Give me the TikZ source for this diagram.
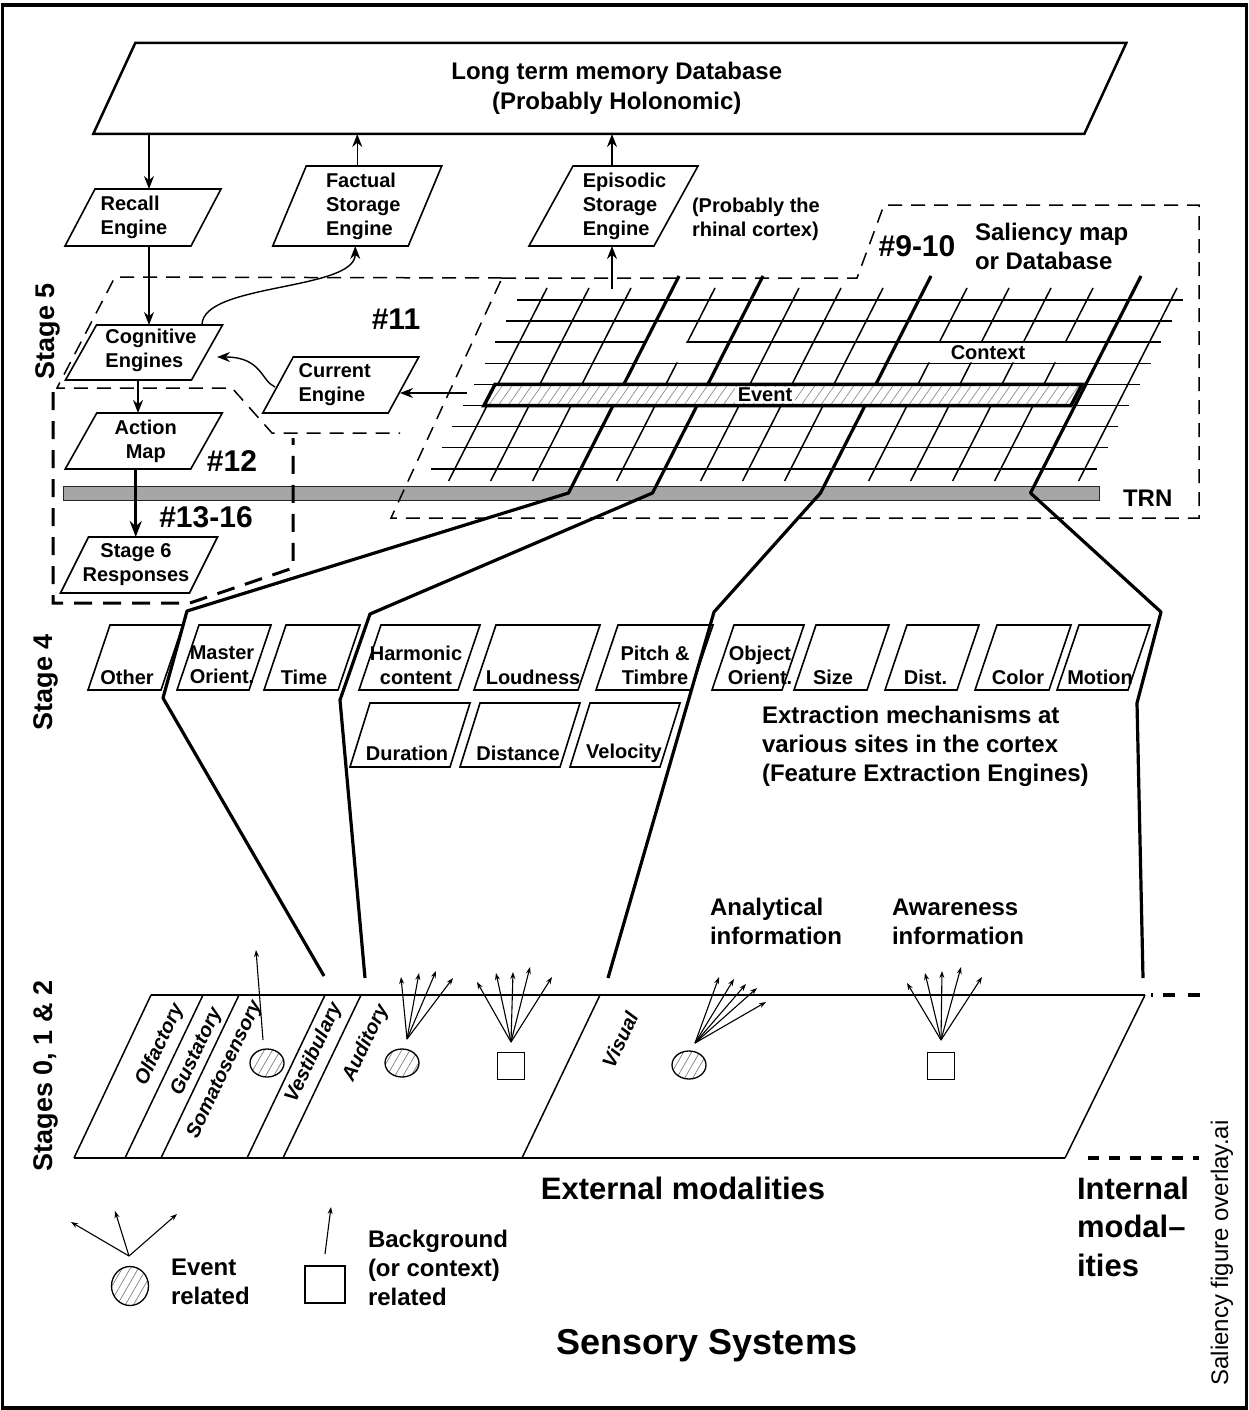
\documentclass[tikz,border=0pt]{standalone}
\usepackage{fontspec}
\setmainfont{Liberation Sans}
\usetikzlibrary{arrows.meta,calc,patterns.meta,shapes.geometric}

% slanted box: [text opts]{name}{cx}{cy}{edge width}{height}{slant}{text}
\newcommand\pgm[8][]{%
  \node[pgbody,minimum width=#5,minimum height=#6] (#2) at (#3,#4) {};
  \draw[pgline] ($(#2.north west)+(#7/2,0)$) -- ($(#2.north east)+(#7/2,0)$)
     -- ($(#2.south east)-(#7/2,0)$) -- ($(#2.south west)-(#7/2,0)$) -- cycle;
  \node[pgtext,#1] (#2-t) at (#2) {#8};}

% white-out of grid cells between columns #1 and #2, from y=#3 to y=#4
\newcommand\cellpatch[4]{%
  \fill[white] ({547+42*#1-0.51*(#3-288)+1.3},#3) -- ({547+42*#2-0.51*(#3-288)-1.3},#3)
    -- ({547+42*#2-0.51*(#4-288)-1.3},#4) -- ({547+42*#1-0.51*(#4-288)+1.3},#4) -- cycle;}

% fan of small arrows from a base point
\newcommand\fan[2]{\foreach \fdx/\fdy in {#2} {\draw[fanarr] (#1) -- ++(\fdx,\fdy);}}

\tikzset{
  every node/.style={inner sep=0pt, outer sep=0pt},
  pgbody/.style={shape=rectangle},
  pgline/.style={draw, line width=1.6pt, line join=miter},
  pgtext/.style={font=\bfseries\fontsize{20}{24}\selectfont, align=left},
  f20/.style={font=\bfseries\fontsize{20}{24}\selectfont, align=left},
  f24/.style={font=\bfseries\fontsize{24}{29}\selectfont, align=left},
  f27/.style={font=\bfseries\fontsize{27}{32}\selectfont},
  f30/.style={font=\bfseries\fontsize{30}{36}\selectfont},
  f31/.style={font=\bfseries\fontsize{31}{38.5}\selectfont, align=left},
  sense/.style={font=\bfseries\itshape\fontsize{20}{24}\selectfont, rotate=64.6},
  arr/.style={line width=1.4pt, -{Stealth[length=13pt,width=10pt]}},
  arrthick/.style={line width=3pt, -{Stealth[length=16pt,width=12pt]}},
  fanarr/.style={line width=1.1pt, -{Stealth[length=7pt,width=5pt]}},
  gridline/.style={line width=1.5pt},
  thickline/.style={line width=3.2pt, line join=round},
  dashreg/.style={line width=1.5pt, dash pattern=on 14pt off 9pt},
  dashheavy/.style={line width=3pt, dash pattern=on 18pt off 11pt},
  hatchfill/.style={preaction={fill=white}, pattern={Lines[angle=60,distance=7pt,line width=0.7pt]}, pattern color=black!50},
}

\begin{document}
\begin{tikzpicture}[x=1pt,y=-1pt]
\useasboundingbox (0,0) rectangle (1249,1410);
\draw[line width=3.5pt] (2.5,5) rectangle (1246.5,1408);

% ---------- TRN bar ----------
\node[draw=black!85, fill=black!35, line width=1pt, minimum width=1036, minimum height=14] (trn) at (581,493) {};
\node[f24, anchor=west] (trn-l) at (1123,498) {TRN};

% ---------- saliency grid ----------
\foreach \i in {0,...,8}{
  \draw[gridline] ({517-0.51*21.1*\i},{300+21.1*\i}) -- ++(666,0);
}
\foreach \k in {0,1,2,4,6,7,8,10,11,12,13,15}{
  \draw[gridline] ({547+42*\k},288) -- ++(-98.4,193);
}
\cellpatch{9}{14}{343.2}{362.3}
\cellpatch{3}{5}{343.2}{362.3}
\cellpatch{3}{4}{322.1}{362.3}
\node[f20] (context) at (988,353) {Context};

% ---------- projection lines ----------
\coordinate (t1) at (679,276);  \coordinate (b1) at (568.5,493); \coordinate (m1) at (187,611); \coordinate (n1) at (163,698); \coordinate (e1) at (324,976);
\coordinate (t2) at (763,276);  \coordinate (b2) at (652.5,493); \coordinate (m2) at (370,614); \coordinate (n2) at (340,700); \coordinate (e2) at (365,978);
\coordinate (t3) at (931,276);  \coordinate (b3) at (820.5,493); \coordinate (m3) at (714,612); \coordinate (e3) at (608,978);
\coordinate (t4) at (1141,276); \coordinate (b4) at (1030.5,493); \coordinate (m4) at (1161,612); \coordinate (n4) at (1137,703); \coordinate (e4) at (1143,978);
\draw[thickline] (t1) -- (b1) -- (m1) -- (n1) -- (e1);
\draw[thickline] (t2) -- (b2) -- (m2) -- (n2) -- (e2);
\draw[thickline] (t3) -- (b3) -- (m3) -- (e3);
\draw[thickline] (t4) -- (b4) -- (m4) -- (n4) -- (e4);

% ---------- event band ----------
\draw[preaction={fill=white}, pattern={Lines[angle=55,distance=8pt,line width=0.7pt]}, pattern color=black!45, line width=3.5pt, line join=miter]
  (495,384.4) -- (1082,384.4) -- (1071,405.5) -- (484,405.5) -- cycle;
\node[f20, fill=white, inner xsep=3pt, inner ysep=1pt] (event) at (765,395) {Event};

% ---------- dashed regions ----------
\draw[dashreg] (502,278) -- (857,278) -- (884,205) -- (1199,205) -- (1199,518) -- (391,518) -- cycle;
\draw[dashreg] (502,278) -- (115,277) -- (57,388) -- (232,388) -- (272,433) -- (400,433);
\draw[dashheavy] (53,392) -- (53,603) -- (190,603) -- (293,568) -- (293,438);

\node[f30] (n11) at (396,319) {\#11};
\node[f30] (n12) at (232,461) {\#12};
\node[f30] (n13) at (206,517) {\#13-16};
\node[f30] (n9) at (917,246) {\#9-10};
\node[f24, anchor=west] (salmap) at (975,246.5) {Saliency map\\or Database};

% ---------- stage 5 engines ----------
\begin{scope}[pgline/.style={draw, line width=2.5pt, line join=miter}]
\pgm[align=center,xshift=7pt,font=\bfseries\fontsize{24}{30}\selectfont]{ltm}{609.75}{88.5}{991}{91}{42}{Long term memory Database\\(Probably Holonomic)}
\end{scope}
\pgm[xshift=-9pt]{recall}{143}{217.5}{126}{57}{30}{Recall\\Engine}
\pgm[xshift=6pt]{factual}{357.25}{206}{135.5}{80}{33.5}{Factual\\Storage\\Engine}
\pgm[xshift=11pt]{episodic}{613.5}{206}{125}{80}{44}{Episodic\\Storage\\Engine}
\pgm[xshift=7pt,yshift=2pt]{cog}{144}{352.5}{126}{55}{31}{Cognitive\\Engines}
\pgm[xshift=-6pt]{cur}{340.75}{385}{125.5}{56}{30.5}{Current\\Engine}
\pgm[align=center,xshift=2pt]{act}{143.75}{441}{125.5}{56}{31.5}{Action\\Map}
\pgm[align=center,xshift=-3pt]{resp}{139}{565}{129}{56}{28}{Stage 6\\Responses}
\node[f20, anchor=west] (rhinal) at (692,219) {(Probably the\\rhinal cortex)};

\coordinate (rc) at ($(recall.north)+(6,0)$);
\draw[arr] (rc |- ltm.south) -- (rc);
\draw[arr] (factual.north) -- (factual.north |- ltm.south);
\coordinate (ec) at ($(episodic.north)+(-1.5,0)$);
\draw[arr] (ec) -- (ec |- ltm.south);
\coordinate (epsrc) at (612,289);
\draw[arr] (epsrc) -- (epsrc |- episodic.south);
\coordinate (rcog) at ($(recall.south)+(6,0)$);
\draw[arr] (rcog) -- (rcog |- cog.north);
\draw[arr] ($(cog.north)+(58,0)$) .. controls +(0,-42) and +(0,45) .. ($(factual.south)+(-2,0)$);
\draw[arr] ($(cur.west)+(-3,2)$) .. controls +(-14,-6) and +(45,0) .. ($(cog.east)+(10,4.5)$);
\coordinate (cursrc) at (467,393);
\draw[arr] (cursrc) -- ($(cur.east)+(-3.5,8)$);
\coordinate (ca) at ($(cog.south)+(-6,0)$);
\draw[arr, line width=2.4pt] (ca) -- (ca |- act.north);
\coordinate (ar) at ($(act.south)+(-8,0)$);
\draw[arrthick] (ar) -- (ar |- resp.north);

% ---------- stage 4 feature extraction ----------
\pgm[align=center,xshift=-8.5pt,yshift=-19.5pt]{other}{135.5}{657.5}{73}{65}{22}{Other}
\pgm[align=right,xshift=-2pt,yshift=-7.5pt]{master}{224}{657.5}{72}{65}{22}{Master\\Orient.}
\pgm[align=center,xshift=-8pt,yshift=-19.5pt]{time}{312}{657.5}{74}{65}{22}{Time}
\pgm[align=center,xshift=-3.5pt,yshift=-7.5pt]{harm}{419.5}{657.5}{99}{65}{22}{Harmonic\\content}
\pgm[align=center,xshift=-4pt,yshift=-19.5pt]{loud}{537}{657.5}{104}{65}{22}{Loudness}
\pgm[align=center,xshift=0.5pt,yshift=-7.5pt]{pitch}{654.5}{657.5}{95}{65}{22}{Pitch \&\\Timbre}
\pgm[align=center,xshift=2pt,yshift=-7.5pt]{objor}{758}{657.5}{70}{65}{22}{Object\\Orient.}
\pgm[align=center,xshift=-8.5pt,yshift=-19.5pt]{size}{841.5}{657.5}{73}{65}{22}{Size}
\pgm[align=center,xshift=-6.5pt,yshift=-19.5pt]{dist}{932}{657.5}{72}{65}{22}{Dist.}
\pgm[align=center,xshift=-5pt,yshift=-19.5pt]{color}{1023}{657.5}{74}{65}{22}{Color}
\pgm[align=center,xshift=-3.5pt,yshift=-19.5pt]{motion}{1103.5}{657.5}{71}{65}{22}{Motion}
\pgm[align=center,xshift=-3pt,yshift=-18pt]{durat}{410}{735}{100}{64}{20}{Duration}
\pgm[align=center,xshift=-2pt,yshift=-18pt]{distance}{520}{735}{100}{64}{20}{Distance}
\pgm[align=center,xshift=-1pt,yshift=-18pt]{veloc}{625}{735}{90}{64}{20}{Velocity}
\node[f24, anchor=west] (extract) at (762,746) {Extraction mechanisms at\\various sites in the cortex\\(Feature Extraction Engines)};

% ---------- stages 0, 1 & 2 ----------
\draw[line width=2.2pt] (151,995) -- (1145,995);
\draw[line width=2.2pt] (74,1158) -- (1065,1158);
\draw[line width=1.5pt] (151,995) -- (74,1158);
\draw[line width=1.5pt] (1145,995) -- (1065,1158);
\foreach \xt in {203,239,325,361,600}{
  \draw[line width=1.5pt] (\xt,995) -- ({\xt-78},1158);
}
\node[sense] (olf) at (160,1045) {Olfactory};
\node[sense] (gus) at (197,1052) {Gustatory};
\node[sense] (som) at (225,1070) {Somatosensory};
\node[sense] (ves) at (314,1053) {Vestibulary};
\node[sense] (aud) at (366,1043) {Auditory};
\node[sense] (vis) at (620,1040) {Visual};

\node[ellipse, draw, line width=1.3pt, hatchfill, minimum width=34, minimum height=28] (somE) at (267,1063) {};
\node[ellipse, draw, line width=1.3pt, hatchfill, minimum width=34, minimum height=28] (audE) at (402,1063) {};
\node[draw, line width=1.4pt, fill=white, minimum width=27, minimum height=27] (audS) at (511,1066) {};
\node[ellipse, draw, line width=1.3pt, hatchfill, minimum width=34, minimum height=28] (visE) at (689,1065) {};
\node[draw, line width=1.4pt, fill=white, minimum width=27, minimum height=27] (awS) at (941,1066) {};

\coordinate (somB) at ($(somE.north)+(-4,-9)$);
\coordinate (audB) at ($(audE.north)+(5,-10)$);
\coordinate (sqB) at ($(audS.north)+(0,-10.5)$);
\coordinate (visB) at ($(visE.north)+(6,-8)$);
\coordinate (awB) at ($(awS.north)+(0,-12.5)$);
\fan{somB}{-7/-90}
\fan{audB}{-6/-62,12/-66,29/-68,46/-61}
\fan{sqB}{-34/-60,-15/-69,2/-70,19/-75,41/-65}
\fan{visB}{24/-66,39/-64,51/-59,62/-55,71/-41}
\fan{awB}{-34/-57,-16/-67,1/-69,20/-73,41/-63}

\node[f24, anchor=west] (anal) at (710,921.5) {Analytical\\information};
\node[f24, anchor=west] (aware) at (892,921.5) {Awareness\\information};

\draw[line width=3.3pt, dash pattern=on 2pt off 10pt on 12pt off 13pt on 12pt off 20pt] (1151,995) -- (1202,995);
\draw[line width=3.5pt, dash pattern=on 11pt off 10pt] (1088,1158) -- (1199,1158);

\node[f31] (ext) at (683,1188) {External modalities};
\node[f31, anchor=west] (int) at (1077,1226.5) {Internal\\modal--\\ities};

% ---------- legend ----------
\node[ellipse, draw, line width=1.3pt, hatchfill, minimum width=37, minimum height=39] (legE) at (130,1286) {};
\coordinate (legB) at ($(legE.north)+(-1,-10.5)$);
\fan{legB}{-58/-34,-14/-45,48/-42}
\node[f24, anchor=west] (legEt) at (171,1281.5) {Event\\related};
\node[draw, line width=1.4pt, minimum width=40, minimum height=37] (legS) at (325,1284.5) {};
\coordinate (legSB) at ($(legS.north)+(0,-12)$);
\fan{legSB}{6/-47}
\node[f24, anchor=west] (legSt) at (368,1268) {Background\\(or context)\\related};

\node[font=\bfseries\fontsize{36}{43}\selectfont] (sens) at (707,1346) {Sensory Systems};

% ---------- stage labels ----------
\node[f27, rotate=90] (st5) at (48,331) {Stage 5};
\node[f27, rotate=90] (st4) at (46,682) {Stage 4};
\node[f27, rotate=90] (st012) at (46,1076) {Stages 0, 1 \& 2};
\node[font=\fontsize{24}{29}\selectfont, rotate=90] (fname) at (1222,1253) {Saliency figure overlay.ai};
\end{tikzpicture}
\end{document}
